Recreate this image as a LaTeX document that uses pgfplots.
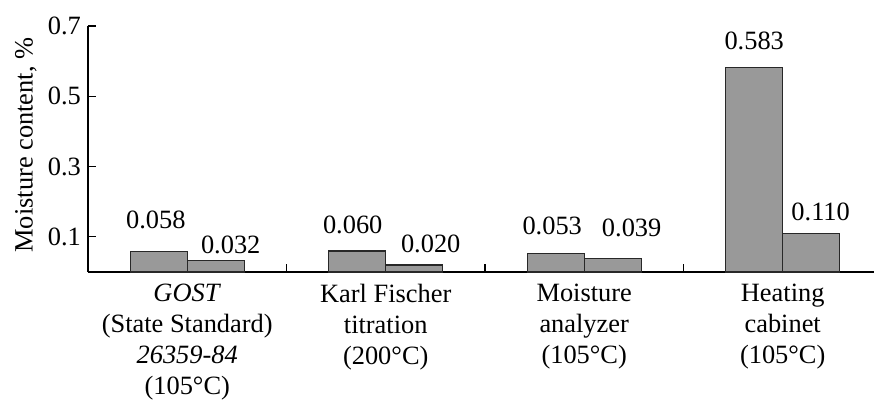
\documentclass[border=0pt]{standalone}
\usepackage{pgfplots}
\pgfplotsset{compat=1.18}
\usepackage{pgfplotstable}
\usepackage{fontspec}
\setmainfont{Liberation Serif}
\definecolor{barfill}{RGB}{153,153,153}
\definecolor{bardraw}{RGB}{40,40,40}

\pgfplotstableread{
x y dx dy
0 0.058 -1.5 11.5
1 0.060 -2.25 8.5
2 0.053 -1.75 9.5
3 0.583 0 9
}\first
\pgfplotstableread{
x y dx dy
0 0.032 7.5 3.5
1 0.020 8.25 6
2 0.039 9.5 11
3 0.110 4.75 6.5
}\second

\newcommand{\cfont}{\fontsize{13.2}{15.5}\selectfont}

\begin{document}
\begin{tikzpicture}[font=\cfont]
\begin{axis}[
  at={(44pt,65pt)}, anchor=south west,
  scale only axis,
  width=393pt, height=123pt,
  xmin=-0.5, xmax=3.46,
  ymin=0, ymax=0.7,
  axis lines*=left,
  axis line style={line width=0.6pt, black},
  tick style={line width=0.6pt, black},
  tick align=inside,
  major tick length=4pt,
  ytick={0.1,0.3,0.5,0.7},
  yticklabel style={/pgf/number format/fixed, /pgf/number format/precision=1},
  xtick={0.5,1.5,2.5},
  xticklabels={},
  extra x ticks={0,1,2,3},
  extra x tick labels={
    {\textit{GOST}\\(State Standard)\\\textit{26359-84}\\(105°C)},
    {Karl Fischer\\titration\\(200°C)},
    {Moisture\\analyzer\\(105°C)},
    {Heating\\cabinet\\(105°C)}},
  extra x tick style={major tick length=0pt, tick label style={align=center, font=\cfont, yshift=-2.5pt}},
  tick label style={font=\cfont},
  /pgf/number format/assume math mode=true,
  every axis y label/.style={at={(axis description cs:-0.079,0.516)}, rotate=90, anchor=center, font=\cfont},
  ylabel={Moisture content, \%},
  clip=false,
  nodes near coords={\pgfmathprintnumber[fixed,fixed zerofill,precision=3]{\pgfplotspointmeta}},
  every node near coord/.append style={font=\cfont, anchor=base, xshift=\dx pt, yshift=\dy pt},
  visualization depends on={\thisrow{dx} \as \dx},
  visualization depends on={\thisrow{dy} \as \dy},
]
\addplot[ybar, bar width=0.287, bar shift=0, fill=barfill, draw=bardraw, line width=0.6pt] table[x expr=\thisrow{x}-0.1435, y=y] {\first};
\addplot[ybar, bar width=0.287, bar shift=0, fill=barfill, draw=bardraw, line width=0.6pt] table[x expr=\thisrow{x}+0.1435, y=y] {\second};
\end{axis}
\pgfresetboundingbox
\path[use as bounding box] (0,0) rectangle (437pt,201pt);
\end{tikzpicture}
\end{document}
